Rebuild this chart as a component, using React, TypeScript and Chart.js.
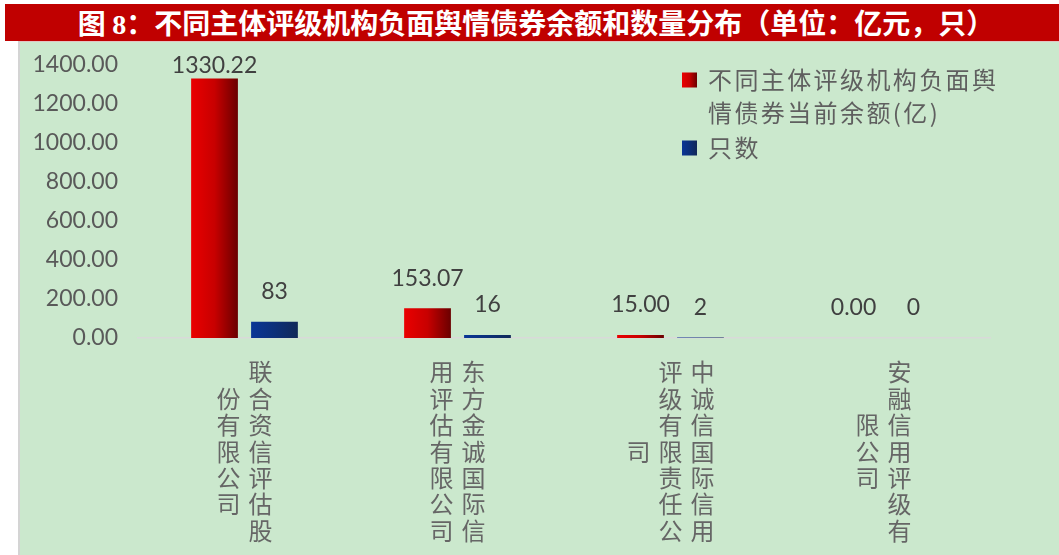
import React, { useEffect, useRef } from "react";
import { Chart, registerables } from "chart.js";

Chart.register(...registerables);

const categories = [
  "联合资信评估股份有限公司",
  "东方金诚国际信用评估有限公司",
  "中诚信国际信用评级有限责任公司",
  "安融信用评级有限公司",
];
const balanceValues = [1330.22, 153.07, 15.0, 0.0];
const countValues = [83, 16, 2, 0];
const yTickValues = [0, 200, 400, 600, 800, 1000, 1200, 1400];
const seriesNames = ["不同主体评级机构负面舆情债券当前余额(亿)", "只数"];
const legendLines = [["不同主体评级机构负面舆", "情债券当前余额(亿)"], ["只数"]];
const titleText = ["图 ", "8", "：不同主体评级机构负面舆情债券余额和数量分布（单位：亿元，只）"];

const W = 1059;
const H = 555;
const CAT_PCT = 0.563;
const BAR_PCT = 0.78;
const RED_STOPS = ["#ea0000", "#c80000", "#6a0000"];
const BLUE_STOPS = ["#0a3596", "#0c2f7a", "#112858"];
const CJK = '"Noto Sans CJK SC", "Noto Sans", sans-serif';
const NUM = 'Lato, "Open Sans", sans-serif';
const LABEL_CHARS_PER_COL = 7;

function makeGradient(c: CanvasRenderingContext2D, x0: number, x1: number, stops: string[]) {
  const g = c.createLinearGradient(x0, 0, x1, 0);
  g.addColorStop(0, stops[0]);
  g.addColorStop(0.5, stops[1]);
  g.addColorStop(1, stops[2]);
  return g;
}

function barFill(stops: string[]) {
  return (ctx: any) => {
    const chart = ctx.chart;
    const xs = chart.scales && chart.scales.x;
    if (!chart.chartArea || !xs || ctx.dataIndex === undefined) return stops[1];
    const center = xs.getPixelForValue(ctx.dataIndex);
    const catW = (xs.right - xs.left) / categories.length;
    const slot = (CAT_PCT * catW) / 2;
    const bc = center + (ctx.datasetIndex - 0.5) * slot;
    const w = BAR_PCT * slot;
    return makeGradient(chart.ctx, bc - w / 2, bc + w / 2, stops);
  };
}

const valueLabelPlugin = {
  id: "valueLabels",
  afterDatasetsDraw(chart: any) {
    const c = chart.ctx;
    c.save();
    c.font = `23px ${NUM}`;
    c.fillStyle = "#404040";
    c.textAlign = "center";
    c.textBaseline = "middle";
    chart.data.datasets.forEach((ds: any, di: number) => {
      const meta = chart.getDatasetMeta(di);
      meta.data.forEach((el: any, i: number) => {
        const v = ds.data[i];
        const txt = di === 0 ? Number(v).toFixed(2) : String(v);
        const y = Math.max(el.y - 30, chart.chartArea.top + 1);
        c.fillText(txt, el.x, y);
      });
    });
    c.restore();
  },
};

const categoryLabelPlugin = {
  id: "categoryLabels",
  afterDraw(chart: any) {
    const xs = chart.scales.x;
    const c = chart.ctx;
    c.save();
    c.font = `24px ${CJK}`;
    c.fillStyle = "#666666";
    c.textAlign = "center";
    c.textBaseline = "middle";
    const pitch = 26.4;
    const colGap = 32;
    const centerY = xs.top + 113.5;
    categories.forEach((name, i) => {
      const chars = Array.from(name);
      const cols: string[][] = [];
      for (let k = 0; k < chars.length; k += LABEL_CHARS_PER_COL) {
        cols.push(chars.slice(k, k + LABEL_CHARS_PER_COL));
      }
      const cx = xs.getPixelForValue(i);
      cols.forEach((col, j) => {
        const x = cx + ((cols.length - 1) / 2 - j) * colGap;
        const y0 = centerY - ((col.length - 1) * pitch) / 2;
        col.forEach((ch, k) => c.fillText(ch, x, y0 + k * pitch));
      });
    });
    c.restore();
  },
};

const legendPlugin = {
  id: "customLegend",
  afterDraw(chart: any) {
    const c = chart.ctx;
    c.save();
    c.font = `24px ${CJK}`;
    (c as any).letterSpacing = "2.4px";
    c.textAlign = "left";
    c.textBaseline = "middle";
    const boxX = 682;
    const textX = 708;
    const itemTops = [80, 148];
    const lineH = 33;
    const stopsList = [RED_STOPS, BLUE_STOPS];
    legendLines.forEach((lines, i) => {
      const y = itemTops[i];
      c.fillStyle = makeGradient(c, boxX, boxX + 15, stopsList[i]);
      c.fillRect(boxX, y - 7.5, 15, 15);
      c.fillStyle = "#5f5f5f";
      lines.forEach((ln, k) => c.fillText(ln, textX, y + k * lineH));
    });
    c.restore();
  },
};

export default function App() {
  const ref = useRef<HTMLCanvasElement | null>(null);

  useEffect(() => {
    if (!ref.current) return;
    const chart = new Chart(ref.current, {
      type: "bar",
      data: {
        labels: categories,
        datasets: [
          {
            label: seriesNames[0],
            data: balanceValues,
            backgroundColor: barFill(RED_STOPS),
            categoryPercentage: CAT_PCT,
            barPercentage: BAR_PCT,
          },
          {
            label: seriesNames[1],
            data: countValues,
            backgroundColor: barFill(BLUE_STOPS),
            categoryPercentage: CAT_PCT,
            barPercentage: BAR_PCT,
          },
        ],
      },
      options: {
        responsive: false,
        animation: false,
        layout: { padding: { top: 65, right: 69, left: 0, bottom: 0 } },
        plugins: {
          legend: { display: false },
          title: { display: false },
          tooltip: { enabled: false },
        },
        scales: {
          x: {
            grid: { display: false },
            border: { display: true, color: "#d9d9d9", width: 1.5 },
            ticks: { display: false },
            afterFit: (s: any) => {
              s.height = H - 338;
            },
          },
          y: {
            min: 0,
            max: 1400,
            grid: { display: false },
            border: { display: false },
            afterBuildTicks: (s: any) => {
              s.ticks = yTickValues.map((v) => ({ value: v }));
            },
            ticks: {
              padding: 12,
              color: "#595959",
              font: { family: NUM, size: 23 },
              callback: (v: any) => Number(v).toFixed(2),
            },
            afterFit: (s: any) => {
              s.width = 138;
            },
          },
        },
      },
      plugins: [valueLabelPlugin, categoryLabelPlugin, legendPlugin],
    });
    return () => chart.destroy();
  }, []);

  return (
    <div
      style={{
        position: "fixed",
        left: 0,
        top: 0,
        width: W,
        height: H,
        background: "#ffffff",
        overflow: "hidden",
      }}
    >
      <div
        style={{
          position: "absolute",
          left: 5,
          top: 4,
          width: W - 5,
          height: 37,
          background: "#c00000",
          color: "#ffffff",
          fontFamily: CJK,
          fontWeight: 700,
          fontSize: 28,
          lineHeight: "37px",
          letterSpacing: "0px",
          textAlign: "center",
          whiteSpace: "nowrap",
          paddingLeft: 8,
          boxSizing: "border-box",
        }}
      >
        {titleText[0]}
        <span style={{ fontFamily: '"Liberation Serif", serif', fontWeight: 700 }}>{titleText[1]}</span>
        {titleText[2]}
      </div>
      <div
        style={{
          position: "absolute",
          left: 18,
          top: 41,
          right: 0,
          bottom: 0,
          background: "#cbe8cd",
          borderLeft: "2px solid #d4d4d4",
          borderTop: "1px solid #e2c4c4",
        }}
      />
      <canvas
        ref={ref}
        width={W}
        height={H}
        style={{ position: "absolute", left: 0, top: 0, width: W, height: H }}
      />
    </div>
  );
}
